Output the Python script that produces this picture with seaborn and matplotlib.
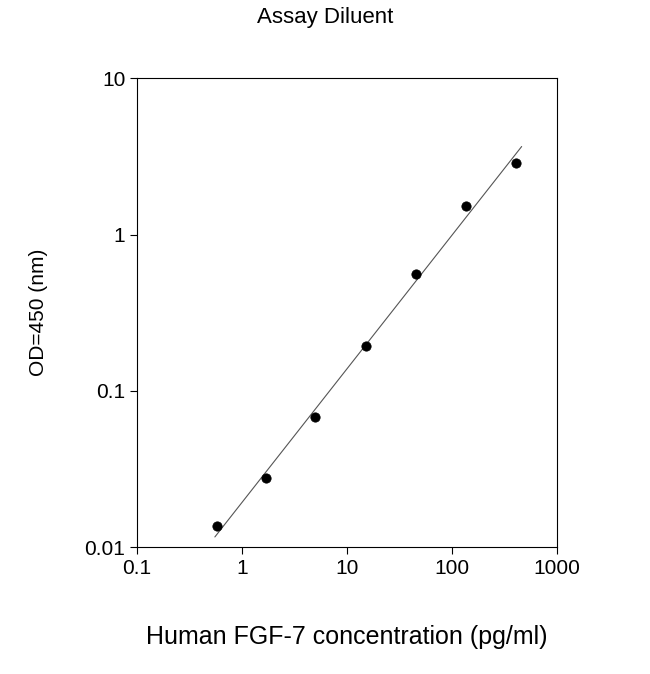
import numpy as np
import matplotlib
matplotlib.use("Agg")
import matplotlib.pyplot as plt
import seaborn as sns
import pandas as pd

conc = [0.58, 1.7, 5.0, 15.0, 45.0, 135, 410]
od = [0.0136, 0.0276, 0.068, 0.193, 0.558, 1.52, 2.86]
xticks = [0.1, 1, 10, 100, 1000]
xticklabels = ["0.1", "1", "10", "100", "1000"]
yticks = [0.01, 0.1, 1, 10]
yticklabels = ["0.01", "0.1", "1", "10"]

sns.set_style("ticks")
plt.rcParams['font.family'] = ['Liberation Sans', 'DejaVu Sans']
plt.rcParams['text.color'] = 'black'
plt.rcParams['axes.labelcolor'] = 'black'
plt.rcParams['xtick.color'] = 'black'
plt.rcParams['ytick.color'] = 'black'
fig = plt.figure(figsize=(6.5, 6.74), dpi=100)
ax = fig.add_axes([0.211, 0.188, 0.646, 0.696])
df = pd.DataFrame({"c": conc, "od": od})
b, a = np.polyfit(np.log10(conc), np.log10(od), 1)
lx = np.logspace(np.log10(0.55), np.log10(460), 50)
sns.lineplot(x=lx, y=10 ** (a + b * np.log10(lx)), ax=ax, color="#555555", lw=0.8)
sns.scatterplot(data=df, x="c", y="od", ax=ax, color="black", s=45, edgecolor="black", zorder=3)
ax.set_xscale("log"); ax.set_yscale("log")
ax.set_xlim(0.1, 1000); ax.set_ylim(0.01, 10)
ax.set_xticks(xticks); ax.set_xticklabels(xticklabels, fontsize=15)
ax.set_yticks(yticks); ax.set_yticklabels(yticklabels, fontsize=15)
ax.minorticks_off()
ax.tick_params(length=5, width=0.8)
for s in ax.spines.values():
    s.set_linewidth(0.8); s.set_color("black")
ax.set_xlabel("Human FGF-7 concentration (pg/ml)", fontsize=18, labelpad=34)
ax.set_ylabel("OD=450 (nm)", fontsize=15, labelpad=26)
fig.suptitle("Assay Diluent", fontsize=16, y=0.99)
fig.savefig("out.png", dpi=100)
